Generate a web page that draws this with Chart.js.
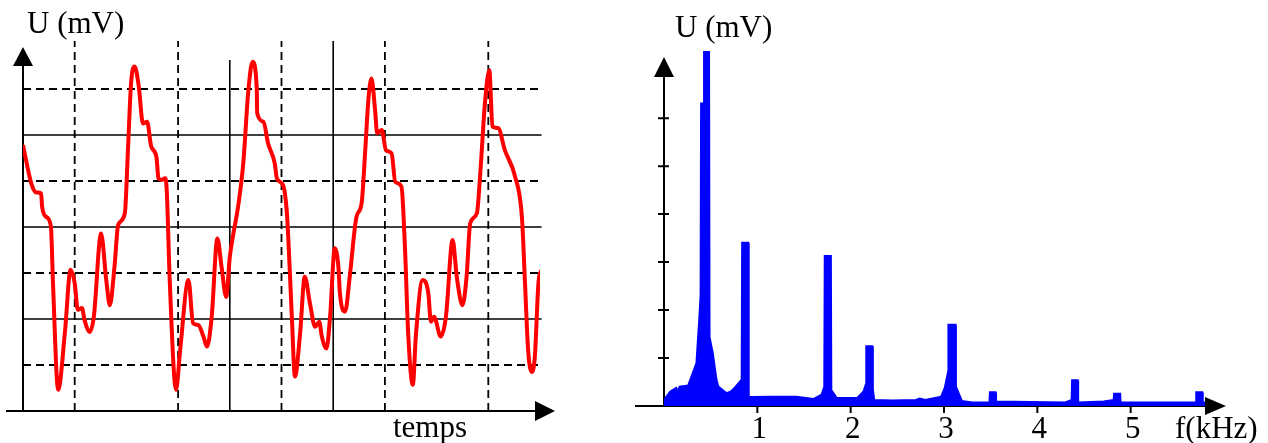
<!DOCTYPE html>
<html>
<head>
<meta charset="utf-8">
<script src="https://cdn.jsdelivr.net/npm/chart.js@4.4.0/dist/chart.umd.min.js"></script>
<style>
  body { margin: 0; background: #fff; }
  #gauche { position: absolute; left: 0; top: 0; }
  #droite { position: absolute; left: 620px; top: 0; }
</style>
</head>
<body>
<canvas id="gauche" width="620" height="443"></canvas>
<canvas id="droite" width="648" height="443"></canvas>
<script>
// signal temporel (divisions)
var tempsX = [0, 0.16, 0.26, 0.35, 0.37, 0.45, 0.54, 0.58, 0.68, 0.81, 0.92, 1.00, 1.06, 1.14, 1.19, 1.29, 1.37, 1.51, 1.61, 1.68,
  1.77, 1.84, 1.97, 2.03, 2.09, 2.16, 2.24, 2.32, 2.40, 2.48, 2.58, 2.62, 2.68, 2.75, 2.78, 2.84, 2.96, 3.04, 3.20, 3.29,
  3.39, 3.49, 3.56, 3.65, 3.76, 3.84, 3.93, 4.00, 4.07, 4.16, 4.26, 4.36, 4.44, 4.52, 4.53, 4.65, 4.74, 4.87, 4.91, 5.03,
  5.10, 5.13, 5.20, 5.26, 5.36, 5.45, 5.55, 5.65, 5.73, 5.78, 5.87, 5.94, 6.03, 6.10, 6.13, 6.23, 6.32, 6.45, 6.55, 6.62,
  6.68, 6.74, 6.81, 6.85, 6.94, 7.02, 7.13, 7.20, 7.32, 7.39, 7.45, 7.54, 7.60, 7.73, 7.84, 7.89, 7.95, 8.08, 8.18, 8.31,
  8.39, 8.50, 8.58, 8.65, 8.78, 8.84, 8.94, 9.02, 9.08, 9.19, 9.32, 9.52, 9.65, 9.71, 9.77, 9.84, 9.90, 9.97, 10.03];
var tensionY = [5.78, 4.95, 4.75, 4.73, 4.44, 4.22, 4.01, 2.78, 0.46, 1.70, 3.07, 2.78, 2.20, 2.24, 1.98, 1.72, 2.05, 3.86, 2.85, 2.30,
  3.14, 4.04, 4.30, 5.67, 7.12, 7.49, 7.05, 6.25, 6.29, 5.75, 5.53, 5.06, 5.02, 5.06, 4.80, 2.78, 0.46, 1.33, 2.85, 1.91,
  1.87, 1.62, 1.40, 2.05, 3.75, 3.14, 2.48, 3.35, 3.86, 4.44, 5.38, 6.98, 7.59, 7.05, 6.47, 6.29, 5.82, 5.38, 5.06, 4.91,
  4.37, 3.79, 2.05, 0.75, 1.69, 2.92, 2.34, 1.83, 1.94, 1.62, 1.36, 2.05, 3.54, 3.14, 2.56, 2.16, 2.92, 4.22, 4.52, 5.67,
  6.76, 7.23, 6.54, 6.04, 6.11, 5.67, 5.60, 4.98, 4.88, 3.50, 1.69, 0.57, 1.65, 2.85, 2.56, 1.94, 2.05, 1.62, 2.05, 3.72,
  2.92, 2.30, 2.92, 4.08, 4.30, 5.09, 6.76, 7.41, 6.18, 6.15, 5.67, 5.09, 4.22, 2.78, 1.33, 0.85, 1.18, 2.78, 3.07];

// spectre
var freqKHz = [0, 0.07, 0.13, 0.15, 0.17, 0.26, 0.31, 0.35, 0.38, 0.395, 0.40, 0.43, 0.432, 0.48, 0.485, 0.52, 0.56, 0.58, 0.67, 0.72,
  0.77, 0.835, 0.84, 0.90, 0.905, 0.93, 1.14, 1.42, 1.60, 1.69, 1.72, 1.725, 1.785, 1.79, 1.85, 2.07, 2.14, 2.165, 2.17, 2.23,
  2.235, 2.25, 2.45, 2.70, 2.74, 2.80, 2.97, 3.01, 3.045, 3.05, 3.12, 3.125, 3.19, 3.30, 3.49, 3.495, 3.55, 3.555, 4.30, 4.37,
  4.375, 4.43, 4.435, 4.71, 4.82, 4.825, 4.885, 4.89, 5.70, 5.705, 5.765, 5.77, 5.82];
var amplitude = [0.12, 0.30, 0.37, 0.30, 0.40, 0.42, 0.68, 0.89, 1.79, 2.31, 6.30, 6.30, 7.38, 7.38, 1.44, 1.10, 0.54, 0.40, 0.26, 0.30,
  0.40, 0.55, 3.40, 3.40, 0.20, 0.18, 0.19, 0.19, 0.14, 0.23, 0.40, 3.12, 3.12, 0.33, 0.16, 0.16, 0.30, 0.45, 1.24, 1.24,
  0.35, 0.12, 0.11, 0.12, 0.15, 0.12, 0.19, 0.37, 0.70, 1.69, 1.69, 0.40, 0.10, 0.07, 0.07, 0.28, 0.28, 0.09, 0.07, 0.12,
  0.53, 0.53, 0.07, 0.09, 0.12, 0.25, 0.25, 0.07, 0.07, 0.28, 0.28, 0.07, 0.07];

var graduationsF = [1, 2, 3, 4, 5];
var lignesH = [1, 2, 3, 4, 5, 6, 7];
var lignesV = [1, 3, 4, 5, 6, 7, 9];
var lignesPleinesV = [4, 6];

var police = "31px 'Liberation Serif', 'Times New Roman', serif";

function fleche(ctx, x1, y1, x2, y2, x3, y3) {
    ctx.beginPath();
    ctx.moveTo(x1, y1);
    ctx.lineTo(x2, y2);
    ctx.lineTo(x3, y3);
    ctx.closePath();
    ctx.fill();
}

// grille et axes du signal
var grilleGauche = {
    id: 'grilleGauche',
    beforeDatasetsDraw: function (chart) {
        var ctx = chart.ctx;
        var x = chart.scales.x, y = chart.scales.y;
        var x0 = x.getPixelForValue(0), y0 = y.getPixelForValue(0);
        var xFin = x.getPixelForValue(10.03);
        ctx.save();
        ctx.strokeStyle = '#000';
        lignesH.forEach(function (v) {
            var tiret = v % 2 === 1;
            ctx.setLineDash(tiret ? [8, 5] : []);
            ctx.lineWidth = tiret ? 1.8 : 1.6;
            ctx.beginPath();
            ctx.moveTo(x0, y.getPixelForValue(v));
            ctx.lineTo(xFin, y.getPixelForValue(v));
            ctx.stroke();
        });
        lignesV.forEach(function (v) {
            var plein = lignesPleinesV.indexOf(v) >= 0;
            ctx.setLineDash(plein ? [] : [8, 5]);
            ctx.lineWidth = plein ? 1.6 : 1.8;
            var haut = v === 4 ? y.getPixelForValue(7.63) : chart.chartArea.top - 2;
            ctx.beginPath();
            ctx.moveTo(x.getPixelForValue(v), y0);
            ctx.lineTo(x.getPixelForValue(v), haut);
            ctx.stroke();
        });
        ctx.setLineDash([]);
        ctx.lineWidth = 2;
        ctx.beginPath();
        ctx.moveTo(x0, y0);
        ctx.lineTo(x0, chart.chartArea.top + 20);
        ctx.moveTo(6, y0);
        ctx.lineTo(chart.chartArea.right - 4, y0);
        ctx.stroke();
        ctx.fillStyle = '#000';
        fleche(ctx, x0 - 10, chart.chartArea.top + 23, x0 + 10, chart.chartArea.top + 23, x0, chart.chartArea.top + 4);
        fleche(ctx, chart.chartArea.right - 5, y0 - 10, chart.chartArea.right - 5, y0 + 10, chart.chartArea.right + 15, y0);
        ctx.restore();
    },
    afterDraw: function (chart) {
        var ctx = chart.ctx;
        ctx.save();
        ctx.fillStyle = '#000';
        ctx.font = police;
        ctx.textBaseline = 'alphabetic';
        ctx.fillText('U (mV)', 27, 33);
        ctx.fillText('temps', 393, 437);
        ctx.restore();
    }
};

// axes du spectre
var axesDroite = {
    id: 'axesDroite',
    beforeDatasetsDraw: function (chart) {
        var ctx = chart.ctx;
        var x = chart.scales.x, y = chart.scales.y;
        var x0 = x.getPixelForValue(0), y0 = y.getPixelForValue(0);
        ctx.save();
        ctx.strokeStyle = '#000';
        ctx.fillStyle = '#000';
        ctx.lineWidth = 2;
        ctx.beginPath();
        ctx.moveTo(x0, y0);
        ctx.lineTo(x0, 77);
        ctx.moveTo(15, y0);
        ctx.lineTo(x.getPixelForValue(6) - 18, y0);
        y.ticks.forEach(function (t) {
            if (t.value > 0 && t.value <= 6) {
                var py = y.getPixelForValue(t.value);
                ctx.moveTo(x0 - 6, py);
                ctx.lineTo(x0 + 5, py);
            }
        });
        graduationsF.forEach(function (v) {
            var px = x.getPixelForValue(v);
            ctx.moveTo(px, y0);
            ctx.lineTo(px, y0 + 7);
        });
        ctx.stroke();
        fleche(ctx, x0 - 10, 77, x0 + 10, 77, x0, 57);
        ctx.restore();
    },
    afterDraw: function (chart) {
        var ctx = chart.ctx;
        var x = chart.scales.x, y = chart.scales.y;
        var y0 = y.getPixelForValue(0);
        var xFin = x.getPixelForValue(6);
        ctx.save();
        ctx.fillStyle = '#000';
        fleche(ctx, xFin - 19, y0 - 9, xFin - 19, y0 + 9, xFin + 2, y0);
        ctx.font = police;
        ctx.textAlign = 'center';
        graduationsF.forEach(function (v) {
            ctx.fillText(String(v), x.getPixelForValue(v) + 2, 438);
        });
        ctx.textAlign = 'left';
        ctx.fillText('U (mV)', 55, 37);
        ctx.fillText('f(kHz)', 555, 438);
        ctx.restore();
    }
};

function points(xs, ys) {
    return xs.map(function (v, i) { return { x: v, y: ys[i] }; });
}

new Chart(document.getElementById('gauche'), {
    type: 'line',
    data: {
        datasets: [{
            data: points(tempsX, tensionY),
            borderColor: '#ff0000',
            borderWidth: 4,
            pointRadius: 0,
            cubicInterpolationMode: 'monotone',
            fill: false
        }]
    },
    options: {
        responsive: false,
        animation: false,
        layout: { padding: { left: 23, top: 43, right: 80, bottom: 32 } },
        plugins: { legend: { display: false }, tooltip: { enabled: false } },
        scales: {
            x: { type: 'linear', min: 0, max: 10, display: false },
            y: { min: 0, max: 8, display: false }
        }
    },
    plugins: [grilleGauche]
});

new Chart(document.getElementById('droite'), {
    type: 'line',
    data: {
        datasets: [{
            data: points(freqKHz, amplitude),
            borderColor: '#0000ff',
            backgroundColor: '#0000ff',
            borderWidth: 2.5,
            pointRadius: 0,
            tension: 0,
            fill: 'origin'
        }]
    },
    options: {
        responsive: false,
        animation: false,
        layout: { padding: { left: 44, top: 51, right: 44, bottom: 37 } },
        plugins: { legend: { display: false }, tooltip: { enabled: false } },
        scales: {
            x: { type: 'linear', min: 0, max: 6, display: false, ticks: { stepSize: 1 } },
            y: { min: 0, max: 7.4, display: false, ticks: { stepSize: 1 } }
        }
    },
    plugins: [axesDroite]
});
</script>
</body>
</html>
